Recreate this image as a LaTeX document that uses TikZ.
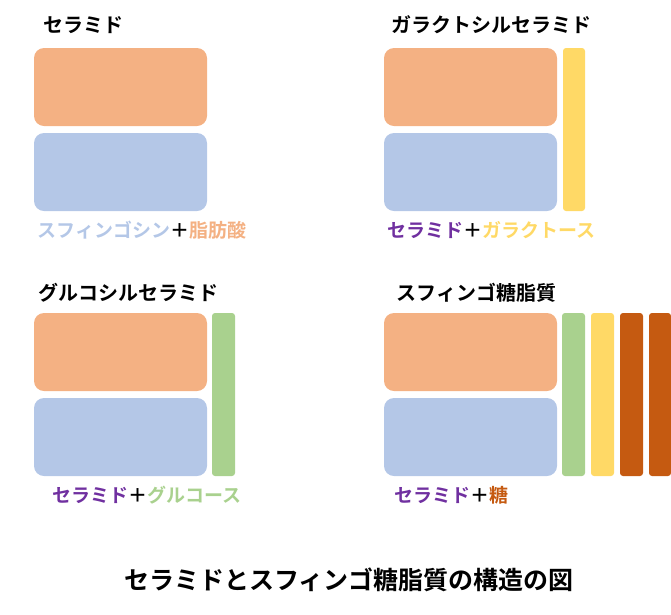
\documentclass[tikz,border=0pt]{standalone}
\usepackage{fontspec}
\setmainfont{Noto Sans CJK JP}[BoldFont={Noto Sans CJK JP Bold}]
\usetikzlibrary{positioning}
\definecolor{fat}{HTML}{F4B183}
\definecolor{sph}{HTML}{B4C7E7}
\definecolor{gal}{HTML}{FFD966}
\definecolor{glc}{HTML}{A9D18E}
\definecolor{sug}{HTML}{C55A11}
\definecolor{cer}{HTML}{7030A0}
\tikzset{
  blk/.style={fill=#1, rounded corners=10pt, draw=none},
  bar/.style={fill=#1, rounded corners=3pt, draw=none},
  ttl/.style={font=\bfseries\fontsize{20}{20}\selectfont, anchor=west},
  lbl/.style={font=\bfseries\fontsize{19}{19}\selectfont, anchor=west}
}
\begin{document}
\begin{tikzpicture}[x=1pt,y=-1pt]
   \useasboundingbox (0,0) rectangle (671,614);
   % ceramide
   \fill[blk=fat] (34,48) rectangle (207,126);
   \fill[blk=sph] (34,133) rectangle (207,211);
   \node[ttl] (t_1) at (40,25) {セラミド};
   \node[lbl] (l_1) at (34,230) {\textcolor{sph}{スフィンゴシン}＋\textcolor{fat}{脂肪酸}};
   % galactosylceramide
   \fill[blk=fat] (384,48) rectangle (557,126);
   \fill[blk=sph] (384,133) rectangle (557,211);
   \fill[bar=gal] (563,48) rectangle (585,211);
   \node[ttl] (t_2) at (388,25) {ガラクトシルセラミド};
   \node[lbl] (l_2) at (384,230) {\textcolor{cer}{セラミド}＋\textcolor{gal}{ガラクトース}};
   % glucosylceramide
   \fill[blk=fat] (34,313) rectangle (207,391);
   \fill[blk=sph] (34,398) rectangle (207,476);
   \fill[bar=glc] (212,313) rectangle (235,476);
   \node[ttl] (t_3) at (35,293) {グルコシルセラミド};
   \node[lbl] (l_3) at (49,495) {\textcolor{cer}{セラミド}＋\textcolor{glc}{グルコース}};
   % glycosphingolipid
   \fill[blk=fat] (384,313) rectangle (557,391);
   \fill[blk=sph] (384,398) rectangle (557,476);
   \fill[bar=glc] (562,313) rectangle (585,476);
   \fill[bar=gal] (591,313) rectangle (614,476);
   \fill[bar=sug] (620,313) rectangle (643,476);
   \fill[bar=sug] (649,313) rectangle (671,476);
   \node[ttl] (t_4) at (393,293) {スフィンゴ糖脂質};
   \node[lbl] (l_4) at (391,495) {\textcolor{cer}{セラミド}＋\textcolor{sug}{糖}};
   % caption
   \node[font=\bfseries\fontsize{25}{25}\selectfont] (cap) at (349,580) {セラミドとスフィンゴ糖脂質の構造の図};
\end{tikzpicture}
\end{document}
